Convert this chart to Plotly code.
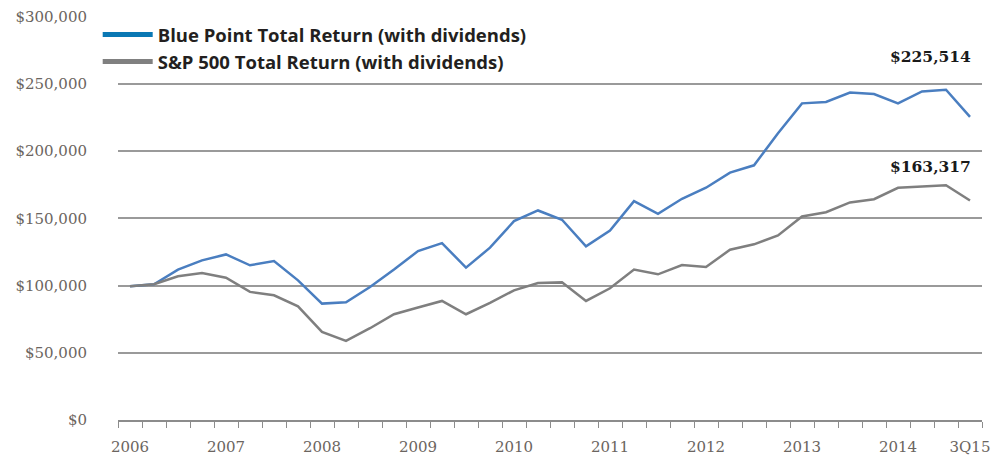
import plotly.graph_objects as go

year_labels = ["2006", "2007", "2008", "2009", "2010", "2011", "2012", "2013", "2014", "3Q15"]
label_positions = [0, 4, 8, 12, 16, 20, 24, 28, 32, 35]

blue_point = [99500, 101000, 111900, 118800, 123200, 115100, 118300, 103900, 86600, 87600,
              99000, 111900, 125700, 131600, 113400, 128200, 148000, 155900, 149000, 129200,
              141000, 162800, 153400, 164600, 172800, 184100, 189500, 213300, 235600, 236600,
              243700, 242500, 235600, 244500, 245700, 225514]
sp500 = [99500, 101000, 106900, 109400, 105900, 95300, 92800, 84600, 65600, 58900,
         68300, 78700, 83700, 88600, 78700, 87100, 96500, 101900, 102400, 88600,
         98000, 111900, 108400, 115300, 113800, 126700, 130700, 137300, 151400, 154600,
         161900, 164300, 172800, 173700, 174700, 163317]

series_names = ["Blue Point Total Return (with dividends)", "S&P 500 Total Return (with dividends)"]
line_colors = ["#4a7ec0", "#7f7f7f"]
legend_colors = ["#0a78b4", "#808080"]
end_labels = ["$225,514", "$163,317"]

x = list(range(len(blue_point)))
fig = go.Figure()
for vals, col, name in [(blue_point, line_colors[0], series_names[0]), (sp500, line_colors[1], series_names[1])]:
    fig.add_trace(go.Scatter(x=x, y=vals, mode="lines", line=dict(color=col, width=2.5),
                             showlegend=False, name=name))
for name, col in zip(series_names, legend_colors):
    fig.add_trace(go.Scatter(x=[None], y=[None], mode="lines", line=dict(color=col, width=5),
                             name="<b>" + name + "</b>", showlegend=True))

ann_font = dict(family="DejaVu Serif", size=15.5, color="#1a1a1a")
fig.add_annotation(x=x[-1], y=blue_point[-1], text="<b>" + end_labels[0] + "</b>", showarrow=False,
                   xanchor="right", yanchor="middle", xshift=3, yshift=60, font=ann_font)
fig.add_annotation(x=x[-1], y=sp500[-1], text="<b>" + end_labels[1] + "</b>", showarrow=False,
                   xanchor="right", yanchor="middle", xshift=3, yshift=34, font=ann_font)

tick_font = dict(family="DejaVu Serif", size=15, color="#6b6560")
fig.update_layout(
    width=994, height=451,
    margin=dict(l=110, r=20, t=8, b=39),
    paper_bgcolor="white", plot_bgcolor="white",
    legend=dict(x=-0.0235, y=1.0, xanchor="left", yanchor="top", bgcolor="rgba(0,0,0,0)",
                font=dict(family="Open Sans", size=18.5, color="#231f20"), itemwidth=50,
                tracegroupgap=0, itemsizing="constant"),
    xaxis=dict(range=[-0.5, 35.5], tickmode="array", tickvals=label_positions, ticktext=year_labels,
               ticks="", showgrid=False, zeroline=False, showline=True, linecolor="#8c8c8c", linewidth=1.5,
               ticklabelstandoff=12, automargin=False, tickfont=tick_font,
               minor=dict(tick0=-0.5, dtick=1, ticks="outside", ticklen=6, tickcolor="#8c8c8c",
                          tickwidth=1, showgrid=False)),
    yaxis=dict(range=[0, 300600], tickmode="array",
               tickvals=[0, 50000, 100000, 150000, 200000, 250000, 300000],
               ticktext=["$0", "$50,000", "$100,000", "$150,000", "$200,000", "$250,000", "$300,000"],
               showgrid=True, gridcolor="#9a9a9a", gridwidth=1.5, zeroline=False, showline=False,
               ticks="", ticklabelstandoff=30, automargin=False, tickfont=tick_font),
)

fig.write_html("out.html")
